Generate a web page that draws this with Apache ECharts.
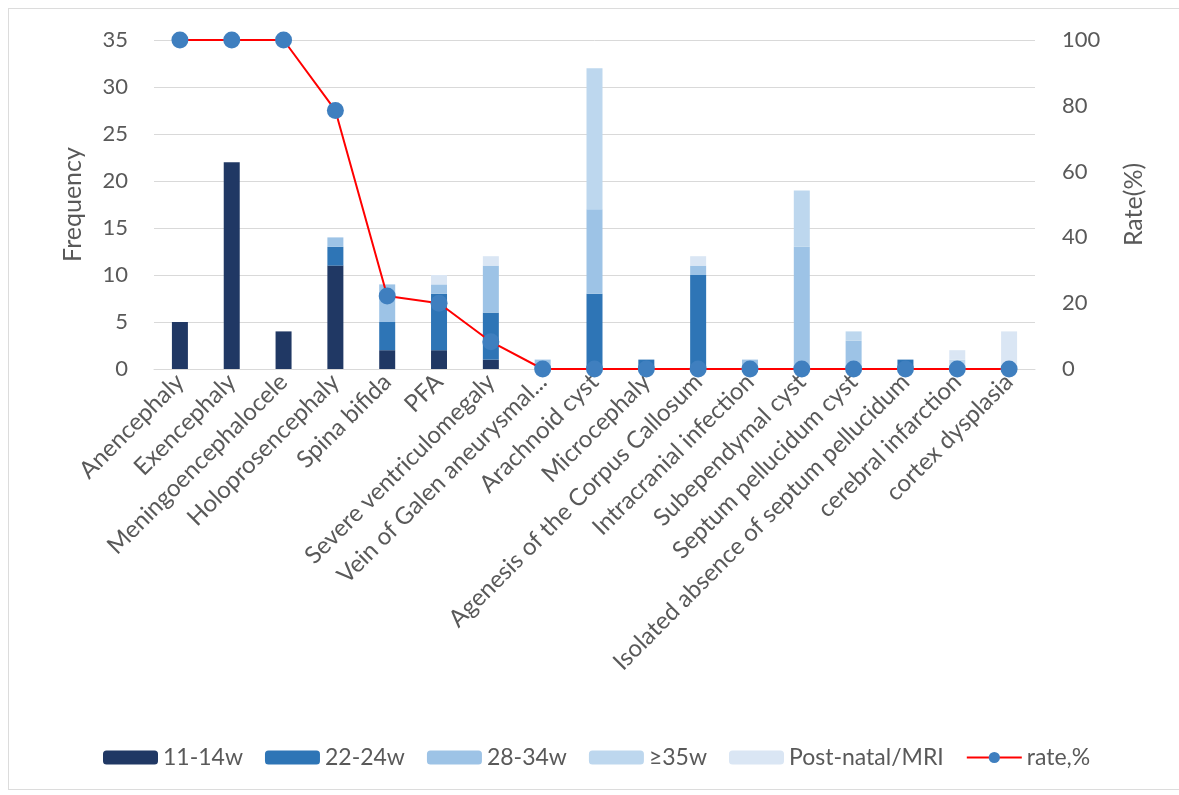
<!DOCTYPE html>
<html lang="en">
<head>
    <meta charset="UTF-8">
    <title>Frequency and rate</title>
    <script src="https://cdn.jsdelivr.net/npm/echarts@6/dist/echarts.min.js"></script>
    <style>
        body { margin: 0; background: #fff; }
        #frame { position: absolute; left: 8px; top: 8px; width: 1180px; height: 780px; border: 1px solid #dcdcdc; }
        #main { position: absolute; left: 0; top: 0; width: 1179px; height: 795px; }
    </style>
</head>
<body>
    <div id="frame"></div>
    <div id="main"></div>
    <script type="text/javascript">
        var categories = ['Anencephaly', 'Exencephaly', 'Meningoencephalocele', 'Holoprosencephaly',
            'Spina bifida', 'PFA', 'Severe ventriculomegaly', 'Vein of Galen aneurysmal...',
            'Arachnoid cyst', 'Microcephaly', 'Agenesis of the Corpus Callosum', 'Intracranial infection',
            'Subependymal cyst', 'Septum pellucidum cyst', 'Isolated absence of septum pellucidum',
            'cerebral infarction', 'cortex dysplasia'];
        var w11_14 = [5, 22, 4, 11, 2, 2, 1, 0, 0, 0, 0, 0, 0, 0, 0, 0, 0];
        var w22_24 = [0, 0, 0, 2, 3, 6, 5, 0, 8, 1, 10, 0, 0, 0, 1, 0, 0];
        var w28_34 = [0, 0, 0, 1, 4, 1, 5, 1, 9, 0, 1, 1, 13, 3, 0, 0, 0];
        var w35 = [0, 0, 0, 0, 0, 0, 0, 0, 15, 0, 0, 0, 6, 1, 0, 1, 0];
        var postNatal = [0, 0, 0, 0, 0, 1, 1, 0, 0, 0, 1, 0, 0, 0, 0, 1, 4];
        var rate = [100, 100, 100, 78.6, 22.2, 20, 8.3, 0, 0, 0, 0, 0, 0, 0, 0, 0, 0];

        var font = 'Lato, "Open Sans", sans-serif';
        var textGray = '#595959';

        function barSeries(name, data, color) {
            return {
                name: name,
                type: 'bar',
                stack: 'total',
                barWidth: 16,
                data: data,
                itemStyle: { color: color },
                emphasis: { disabled: true }
            };
        }

        var chart = echarts.init(document.getElementById('main'));
        chart.setOption({
            animation: false,
            textStyle: { fontFamily: font },
            grid: {
                left: 154, right: 144, top: 40, bottom: 426,
                containLabel: false,
                outerBoundsMode: 'none'
            },
            legend: {
                left: 98,
                top: 741,
                itemWidth: 55,
                itemHeight: 14,
                itemGap: 22,
                textStyle: { color: textGray, fontSize: 23, fontFamily: font },
                data: ['11-14w', '22-24w', '28-34w', '≥35w', 'Post-natal/MRI',
                    { name: 'rate,%', itemStyle: { color: '#3f7fbf' } }]
            },
            xAxis: {
                type: 'category',
                data: categories,
                axisLine: { lineStyle: { color: '#d9d9d9' } },
                axisTick: { show: false },
                axisLabel: {
                    rotate: 45,
                    interval: 0,
                    color: textGray,
                    fontSize: 24,
                    margin: 9,
                    fontFamily: font
                }
            },
            yAxis: [{
                type: 'value',
                name: 'Frequency',
                nameLocation: 'middle',
                nameGap: 69,
                nameRotate: 90,
                nameTextStyle: { color: textGray, fontSize: 25, fontFamily: font },
                min: 0, max: 35, interval: 5,
                axisLine: { show: false },
                axisTick: { show: false },
                axisLabel: { color: textGray, fontSize: 22, margin: 26, fontFamily: font },
                splitLine: { lineStyle: { color: '#d9d9d9', width: 1 } }
            }, {
                type: 'value',
                name: 'Rate(%)',
                nameLocation: 'middle',
                nameGap: 86,
                nameRotate: 90,
                nameTextStyle: { color: textGray, fontSize: 25, fontFamily: font },
                min: 0, max: 100, interval: 20,
                axisLine: { show: false },
                axisTick: { show: false },
                axisLabel: { color: textGray, fontSize: 22, margin: 27, fontFamily: font },
                splitLine: { show: false }
            }],
            series: [
                barSeries('11-14w', w11_14, '#203864'),
                barSeries('22-24w', w22_24, '#2e75b6'),
                barSeries('28-34w', w28_34, '#9dc3e6'),
                barSeries('≥35w', w35, '#bdd7ee'),
                barSeries('Post-natal/MRI', postNatal, '#dae6f4'),
                {
                    name: 'rate,%',
                    type: 'line',
                    yAxisIndex: 1,
                    data: rate,
                    symbol: 'circle',
                    symbolSize: 17,
                    z: 5,
                    lineStyle: { color: '#ff0000', width: 2 },
                    itemStyle: { color: '#3f7fbf' },
                    emphasis: { disabled: true }
                }
            ]
        });
    </script>
</body>
</html>
